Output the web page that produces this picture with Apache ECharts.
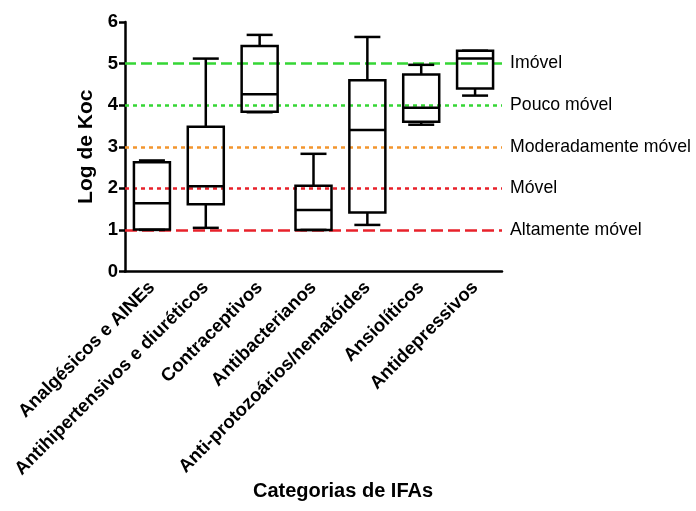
<!DOCTYPE html>
<html>
<head>
<meta charset="utf-8">
<script src="https://cdn.jsdelivr.net/npm/echarts@6/dist/echarts.min.js"></script>
<style>
html, body { margin: 0; padding: 0; background: #fff; }
#chart { width: 696px; height: 511px; }
</style>
</head>
<body>
<div id="chart"></div>
<script>
// categorias de IFAs
var categorias = ['Analgésicos e AINEs', 'Antihipertensivos e diuréticos', 'Contraceptivos',
    'Antibacterianos', 'Anti-protozoários/nematóides', 'Ansiolíticos', 'Antidepressivos'];
// min, Q1, mediana, Q3, max (log Koc)
var minimos = [1.00, 1.05, 3.83, 1.00, 1.12, 3.53, 4.23];
var q1s     = [1.01, 1.62, 3.84, 1.00, 1.42, 3.60, 4.40];
var medianas= [1.64, 2.05, 4.26, 1.48, 3.40, 3.94, 5.12];
var q3s     = [2.63, 3.48, 5.42, 2.06, 4.60, 4.74, 5.31];
var maximos = [2.67, 5.12, 5.69, 2.83, 5.64, 4.97, 5.31];
// faixas de mobilidade
var faixas = ['Altamente móvel', 'Móvel', 'Moderadamente móvel', 'Pouco móvel', 'Imóvel'];
var faixaValores = [1, 2, 3, 4, 5];
var faixaCores = ['#e8222b', '#e8222b', '#f2952e', '#35d635', '#35d635'];
var faixaTracos = [[12, 5], [4, 4], [4, 4], [4, 4], [11, 5]];

var fonte = 'Arial, "Liberation Sans", sans-serif';

var dados = [];
for (var i = 0; i < categorias.length; i++) {
    dados.push([i, minimos[i], q1s[i], medianas[i], q3s[i], maximos[i]]);
}

var linhas = [];
for (var j = 0; j < faixas.length; j++) {
    linhas.push({
        yAxis: faixaValores[j],
        name: faixas[j],
        lineStyle: { color: faixaCores[j], width: 2.5, type: faixaTracos[j] }
    });
}

function renderBox(params, api) {
    var x = api.value(0);
    var pMin = api.coord([x, api.value(1)]);
    var pQ1 = api.coord([x, api.value(2)]);
    var pMed = api.coord([x, api.value(3)]);
    var pQ3 = api.coord([x, api.value(4)]);
    var pMax = api.coord([x, api.value(5)]);
    var cx = pMed[0];
    var bw = 36, cw = 26;
    var st = { stroke: '#000', lineWidth: 2.5, fill: null };
    return {
        type: 'group',
        children: [
            { type: 'rect', shape: { x: cx - bw / 2, y: pQ3[1], width: bw, height: pQ1[1] - pQ3[1] },
              style: { stroke: '#000', lineWidth: 2.5, fill: 'rgba(0,0,0,0)' } },
            { type: 'line', shape: { x1: cx - bw / 2, y1: pMed[1], x2: cx + bw / 2, y2: pMed[1] }, style: st },
            { type: 'line', shape: { x1: cx, y1: pQ3[1], x2: cx, y2: pMax[1] }, style: st },
            { type: 'line', shape: { x1: cx, y1: pQ1[1], x2: cx, y2: pMin[1] }, style: st },
            { type: 'line', shape: { x1: cx - cw / 2, y1: pMax[1], x2: cx + cw / 2, y2: pMax[1] }, style: st },
            { type: 'line', shape: { x1: cx - cw / 2, y1: pMin[1], x2: cx + cw / 2, y2: pMin[1] }, style: st }
        ]
    };
}

var chart = echarts.init(document.getElementById('chart'));
var option = {
    animation: false,
    backgroundColor: '#fff',
    title: {
        text: 'Categorias de IFAs',
        left: 253, top: 481,
        padding: 0,
        textStyle: { fontFamily: fonte, fontWeight: 'bold', fontSize: 20, color: '#000' }
    },
    grid: { left: 125, right: 194, top: 22, bottom: 239.5 },
    xAxis: {
        type: 'category',
        data: categorias,
        axisLine: { lineStyle: { color: '#000', width: 2.5 } },
        axisTick: { alignWithLabel: true, length: 6, lineStyle: { color: '#000', width: 2.5 } },
        axisLabel: { rotate: 45, interval: 0, margin: 13, fontFamily: fonte, fontWeight: 'bold', fontSize: 18.5, color: '#000' },
        splitLine: { show: false }
    },
    yAxis: {
        type: 'value',
        min: 0, max: 6, interval: 1,
        name: 'Log de Koc',
        nameLocation: 'middle',
        nameGap: 28,
        nameTextStyle: { fontFamily: fonte, fontWeight: 'bold', fontSize: 21, color: '#000' },
        axisLine: { show: true, lineStyle: { color: '#000', width: 2.5 } },
        axisTick: { show: true, length: 6, lineStyle: { color: '#000', width: 2.5 } },
        axisLabel: { margin: 7, fontFamily: fonte, fontWeight: 'bold', fontSize: 18.5, color: '#000' },
        splitLine: { show: false }
    },
    series: [{
        type: 'custom',
        renderItem: renderBox,
        data: dados,
        encode: { x: 0, y: [1, 2, 3, 4, 5] },
        z: 3,
        markLine: {
            silent: true,
            symbol: 'none',
            z: 2,
            label: {
                show: true, position: 'end', distance: 8,
                formatter: '{b}', fontFamily: fonte, fontSize: 17.7, color: '#000'
            },
            data: linhas
        }
    }]
};
chart.setOption(option);
</script>
</body>
</html>
